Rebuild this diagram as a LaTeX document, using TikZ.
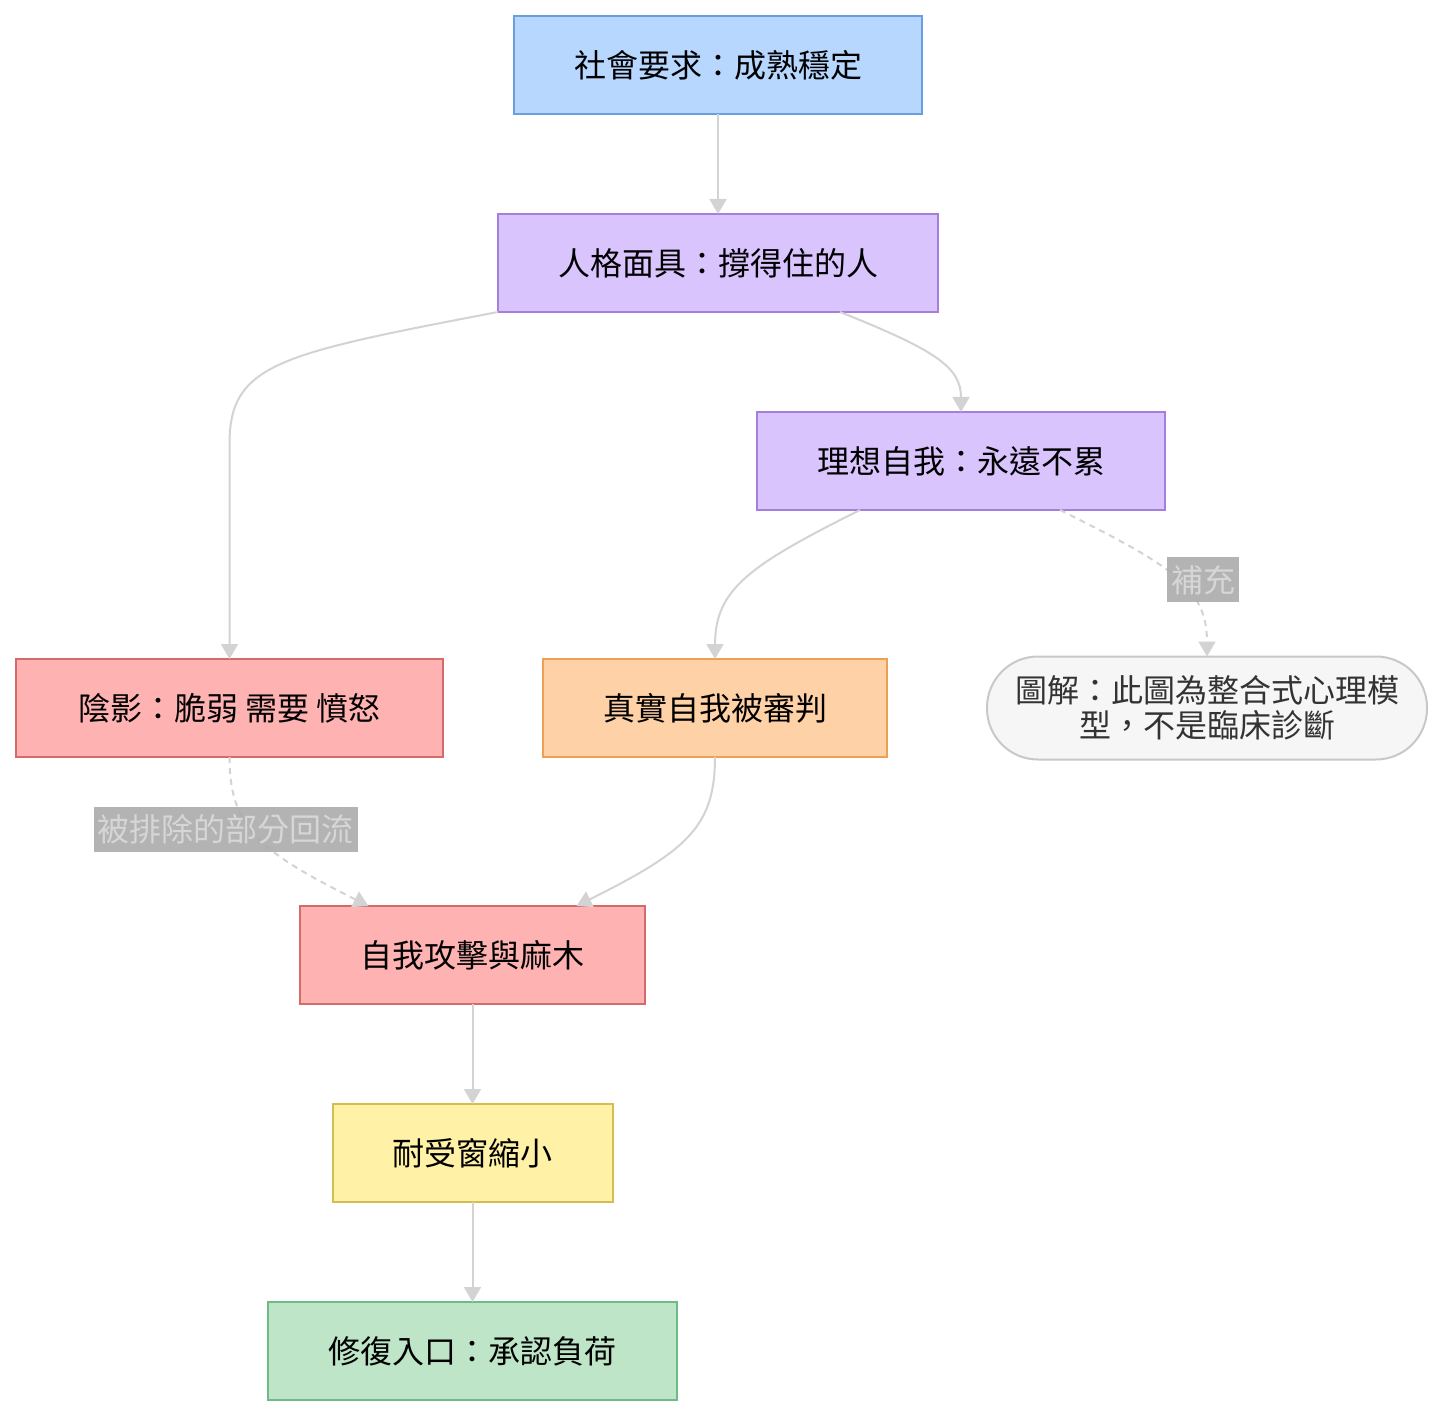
\documentclass[tikz,border=0pt]{standalone}
\usepackage{fontspec}
\newfontfamily\cjk{Noto Sans CJK TC}
\usetikzlibrary{arrows.meta, positioning, calc}
\definecolor{SkyFill}{HTML}{B7D7FF}
\definecolor{SkyLine}{HTML}{6A9EDF}
\definecolor{LilacFill}{HTML}{D9C4FD}
\definecolor{LilacLine}{HTML}{A57FD9}
\definecolor{RoseFill}{HTML}{FFB2B2}
\definecolor{RoseLine}{HTML}{D46A6A}
\definecolor{PeachFill}{HTML}{FFD1A6}
\definecolor{PeachLine}{HTML}{EDA054}
\definecolor{LemonFill}{HTML}{FFF2A6}
\definecolor{LemonLine}{HTML}{D6BE4E}
\definecolor{MintFill}{HTML}{BEE5C8}
\definecolor{MintLine}{HTML}{6EBB87}
\definecolor{NoteFill}{HTML}{F6F6F6}
\definecolor{NoteLine}{HTML}{C8C8C8}
\definecolor{EdgeGray}{HTML}{D3D3D3}
\definecolor{TagFill}{HTML}{ABABAB}
\definecolor{TagText}{HTML}{D6D6D6}
\tikzset{
  box/.style={draw, line width=1pt, rectangle, align=center, minimum height=49pt, inner sep=4pt, outer sep=0pt, font=\cjk\fontsize{16}{19}\selectfont},
  bluebox/.style={box, draw=SkyLine, fill=SkyFill},
  purplebox/.style={box, draw=LilacLine, fill=LilacFill},
  redbox/.style={box, draw=RoseLine, fill=RoseFill},
  orangebox/.style={box, draw=PeachLine, fill=PeachFill},
  yellowbox/.style={box, draw=LemonLine, fill=LemonFill},
  greenbox/.style={box, draw=MintLine, fill=MintFill},
  notebox/.style={draw=NoteLine, line width=1pt, fill=NoteFill, rounded corners=25.5pt, align=center, minimum height=51.5pt, outer sep=0pt, text=black!80, font=\cjk\fontsize{16}{17.5}\selectfont},
  tag/.style={fill=TagFill, fill opacity=0.9, text opacity=1, text=TagText, inner xsep=2pt, inner ysep=0pt, minimum height=22.5pt, font=\cjk\fontsize{16}{19}\selectfont},
  arrow/.style={-{Triangle[length=7.5pt, width=8.5pt]}, line width=1pt, draw=EdgeGray},
  dasharrow/.style={arrow, dash pattern=on 3pt off 2.5pt}
}
\begin{document}
\begin{tikzpicture}[x=0.5pt, y=-0.5pt]
\useasboundingbox (0,0) rectangle (1444,1416);
\node[bluebox, minimum width=204pt] (soc) at (718,65) {社會要求：成熟穩定};
\node[purplebox, minimum width=220pt, below=50pt of soc] (persona) {人格面具：撐得住的人};
\node[purplebox, minimum width=204pt, below=50pt of persona, xshift=121.5pt] (ideal) {理想自我：永遠不累};
\node[orangebox, minimum width=172pt, below=74.5pt of ideal, xshift=-123pt] (real) {真實自我被審判};
\node[redbox, minimum width=213.5pt, left=50pt of real] (shadow) {陰影：脆弱 需要 憤怒};
\node[notebox, minimum width=220pt, right=50pt of real] (note) {圖解：此圖為整合式心理模\\型，不是臨床診斷};
\node[redbox, minimum width=172.5pt, below=74.5pt of real, xshift=-121.25pt] (attack) {自我攻擊與麻木};
\node[yellowbox, minimum width=140pt, below=50pt of attack] (window) {耐受窗縮小};
\node[greenbox, minimum width=204.5pt, below=50pt of window] (repair) {修復入口：承認負荷};

\draw[arrow] (soc) -- (persona);
\draw[arrow] (persona.south west) .. controls +(-220,42) and +(0,-80) .. ($(shadow.north)+(0,-215)$) -- (shadow.north);
\draw[arrow] ($(persona.south)+(122,0)$) .. controls +(95,38) and +(0,-45) .. (ideal.north);
\draw[arrow] ($(ideal.south)+(-101,0)$) .. controls +(-110,55) and +(0,-70) .. (real.north);
\draw[dasharrow] ($(ideal.south)+(99,0)$) .. controls +(110,55) and +(0,-70) .. (note.north);
\draw[dasharrow] (shadow.south) .. controls +(0,70) and +(-110,-55) .. ($(attack.north)+(-104,0)$);
\draw[arrow] (real.south) .. controls +(0,70) and +(110,-55) .. ($(attack.north)+(104,0)$);
\draw[arrow] (attack) -- (window);
\draw[arrow] (window) -- (repair);

\node[tag] (tagA) at (1203,580) {補充};
\node[tag] (tagB) at (225.5,829.5) {被排除的部分回流};
\end{tikzpicture}
\end{document}
